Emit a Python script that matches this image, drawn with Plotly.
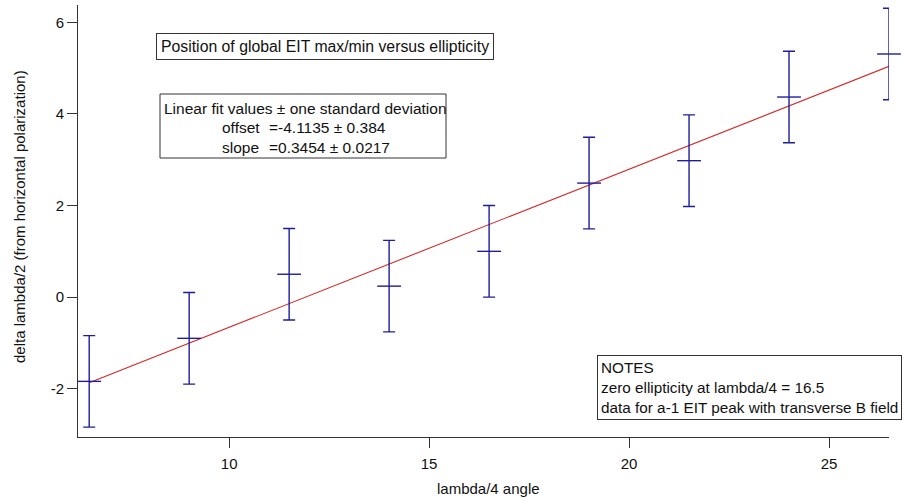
import plotly.graph_objects as go

# ---- data ----
x_angle = [6.5, 9.0, 11.5, 14.0, 16.5, 19.0, 21.5, 24.0, 26.5]
y_delta = [-1.84, -0.90, 0.50, 0.24, 1.00, 2.49, 2.98, 4.37, 5.31]
y_err = [1.0, 1.0, 1.0, 1.0, 1.0, 1.0, 1.0, 1.0, 1.0]

fit_offset = -4.1135
fit_slope = 0.3454
fit_x = [6.5, 26.5]
fit_y = [fit_offset + fit_slope * v for v in fit_x]

x_ticks = [10, 15, 20, 25]
x_ticklabels = ["10", "15", "20", "25"]
y_ticks = [-2, 0, 2, 4, 6]
y_ticklabels = ["-2", "0", "2", "4", "6"]

title_text = "Position of global EIT max/min versus ellipticity"
fit_header = "Linear fit values \u00b1 one standard deviation"
fit_labels = ["offset", "slope"]
fit_values = ["=-4.1135 \u00b1 0.384", "=0.3454 \u00b1 0.0217"]
notes_lines = ["NOTES", "zero ellipticity at lambda/4 = 16.5",
               "data for a-1 EIT peak with transverse B field"]

# ---- layout helpers (pixel -> paper) ----
W, H = 904, 498
ML, MR, MT, MB = 78, 15, 5, 61
PW, PH = W - ML - MR, H - MT - MB


def px(x):
    return (x - ML) / PW


def py(y):
    return (H - MB - y) / PH


FONT = "Liberation Sans, Arial, sans-serif"
TXT = "#111111"
NAVY = "#1e1e9c"
RED = "#d42a2a"

fig = go.Figure()

fig.add_trace(go.Scatter(
    x=fit_x, y=fit_y, mode="lines",
    line=dict(color=RED, width=1.1),
    hoverinfo="skip", showlegend=False,
))

fig.add_trace(go.Scatter(
    x=x_angle, y=y_delta, mode="markers",
    marker=dict(symbol="line-ew", size=17, color=NAVY,
                line=dict(color=NAVY, width=1.4)),
    error_y=dict(type="data", array=y_err, visible=True,
                 color=NAVY, thickness=1.4, width=6),
    cliponaxis=False, showlegend=False,
))

annotations = []
# title box
annotations.append(dict(
    text=title_text, xref="paper", yref="paper",
    x=px(325), y=py(47), xanchor="center", yanchor="middle",
    showarrow=False, font=dict(family=FONT, size=15.8, color=TXT),
    bordercolor="#333333", borderwidth=1, borderpad=4, bgcolor="white",
))
# fit box texts
annotations.append(dict(
    text=fit_header, xref="paper", yref="paper",
    x=px(162), y=py(108), xanchor="left", yanchor="middle",
    showarrow=False, font=dict(family=FONT, size=15.5, color=TXT),
))
for i, (lab, val) in enumerate(zip(fit_labels, fit_values)):
    yy = 127.5 + 19.5 * i
    annotations.append(dict(
        text=lab, xref="paper", yref="paper",
        x=px(220), y=py(yy), xanchor="left", yanchor="middle",
        showarrow=False, font=dict(family=FONT, size=15.5, color=TXT),
    ))
    annotations.append(dict(
        text=val, xref="paper", yref="paper",
        x=px(267), y=py(yy), xanchor="left", yanchor="middle",
        showarrow=False, font=dict(family=FONT, size=15.5, color=TXT),
    ))
# notes box
annotations.append(dict(
    text="<br>".join(notes_lines), xref="paper", yref="paper",
    x=px(597), y=py(355), xanchor="left", yanchor="top", align="left",
    showarrow=False, font=dict(family=FONT, size=15.3, color=TXT),
    bordercolor="#333333", borderwidth=1, borderpad=3, bgcolor="white",
))
# axis titles
annotations.append(dict(
    text="lambda/4 angle", xref="paper", yref="paper",
    x=px(488), y=py(488), xanchor="center", yanchor="middle",
    showarrow=False, font=dict(family=FONT, size=15, color=TXT),
))
annotations.append(dict(
    text="delta lambda/2 (from horizontal polarization)",
    xref="paper", yref="paper", textangle=-90,
    x=px(20), y=py(217), xanchor="center", yanchor="middle",
    showarrow=False, font=dict(family=FONT, size=15, color=TXT),
))

shapes = [dict(
    type="rect", xref="paper", yref="paper",
    x0=px(160), x1=px(446), y0=py(158), y1=py(94),
    line=dict(color="#333333", width=1), fillcolor="rgba(0,0,0,0)",
    layer="above",
)]

fig.update_layout(
    width=W, height=H,
    margin=dict(l=ML, r=MR, t=MT, b=MB),
    paper_bgcolor="white", plot_bgcolor="white",
    font=dict(family=FONT, size=15, color=TXT),
    annotations=annotations, shapes=shapes,
    showlegend=False,
)
fig.update_xaxes(
    range=[6.22, 26.5], tickvals=x_ticks, ticktext=x_ticklabels,
    showgrid=False, zeroline=False, automargin=False,
    showline=True, linecolor="#333333", linewidth=1,
    ticks="outside", ticklen=10, tickcolor="#333333", tickwidth=1,
    ticklabelstandoff=3,
    tickfont=dict(family=FONT, size=15, color=TXT),
)
fig.update_yaxes(
    range=[-3.055, 6.38], tickvals=y_ticks, ticktext=y_ticklabels,
    showgrid=False, zeroline=False, automargin=False,
    showline=True, linecolor="#333333", linewidth=1,
    ticks="outside", ticklen=10, tickcolor="#333333", tickwidth=1,
    tickfont=dict(family=FONT, size=15, color=TXT),
)

fig.write_html("out.html",
               config={"displayModeBar": False},
               post_script="document.body.style.margin='0px';")
